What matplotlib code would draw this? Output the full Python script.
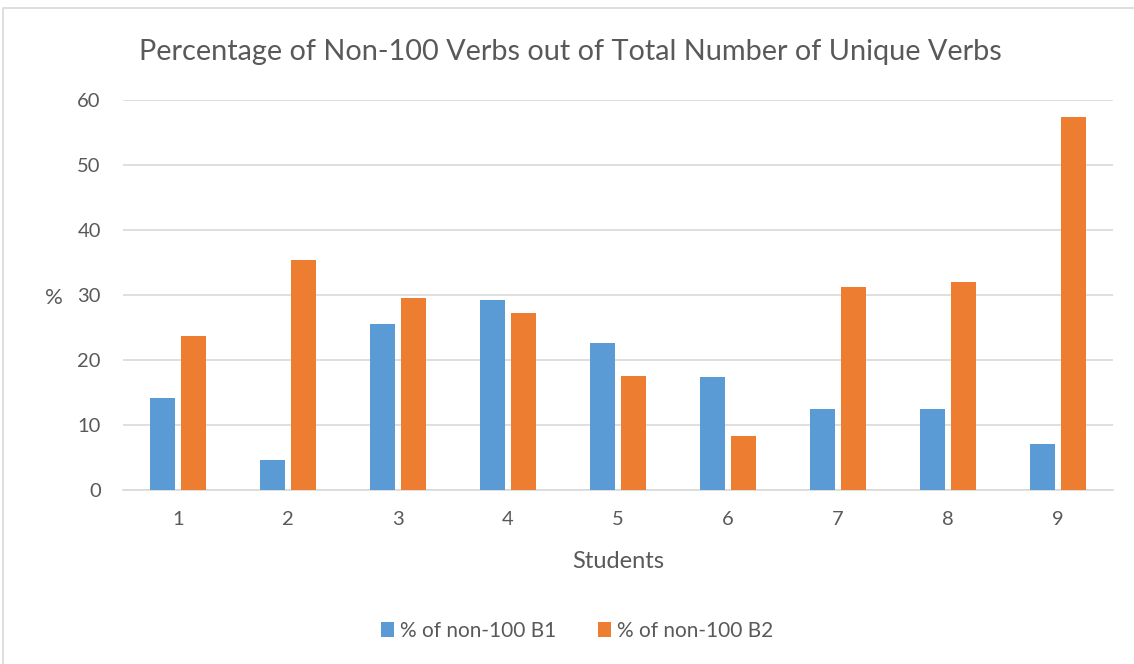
import matplotlib
matplotlib.use("Agg")
import matplotlib.pyplot as plt
import numpy as np
from matplotlib.patches import Rectangle

students = ["1", "2", "3", "4", "5", "6", "7", "8", "9"]
b1 = [14.2, 4.6, 25.6, 29.3, 22.7, 17.4, 12.5, 12.5, 7.1]
b2 = [23.7, 35.4, 29.5, 27.2, 17.6, 8.3, 31.2, 32.1, 57.5]

text_color = "#595959"
plt.rcParams["font.family"] = ["Lato", "DejaVu Sans"]

fig = plt.figure(figsize=(11.34, 6.64), dpi=100)
ax = fig.add_axes([0.1085, 0.262, 0.873, 0.587])

x = np.arange(len(students))
w = 0.227
ax.bar(x - 0.142, b1, width=w, color="#5B9BD5", label="% of non-100 B1", zorder=3)
ax.bar(x + 0.142, b2, width=w, color="#ED7D31", label="% of non-100 B2", zorder=3)

ax.set_xlim(-0.5, len(students) - 0.5)
ax.set_ylim(0, 60)
ax.set_yticks(range(0, 61, 10))
ax.set_xticks(x)
ax.set_xticklabels(students)
ax.yaxis.grid(True, color="#D9D9D9", linewidth=1.2, zorder=0)
for s in ["top", "right", "left"]:
    ax.spines[s].set_visible(False)
ax.spines["bottom"].set_color("#D9D9D9")
ax.spines["bottom"].set_linewidth(1.2)
ax.tick_params(axis="both", length=0, labelsize=14.5, colors=text_color)
ax.tick_params(axis="y", pad=16)
ax.tick_params(axis="x", pad=15)

ax.set_xlabel("Students", fontsize=17, color=text_color, labelpad=17)
ax.set_ylabel("%", fontsize=16, color=text_color, rotation=0, va="center", ha="center")
ax.yaxis.set_label_coords(-0.07, 0.493)

fig.text(0.503, 0.922, "Percentage of Non-100 Verbs out of Total Number of Unique Verbs",
         ha="center", va="center", fontsize=20.8, color=text_color)

fig.legend(loc="center", bbox_to_anchor=(0.509, 0.05), ncol=2, frameon=False,
           fontsize=15, labelcolor=text_color, handlelength=0.6, handleheight=0.7,
           handletextpad=0.3, columnspacing=2.0)

fig.patches.append(Rectangle((0.003, -0.01), 1.0, 0.998, transform=fig.transFigure,
                             fill=False, edgecolor="#D9D9D9", linewidth=1.2))

fig.savefig("out.png", dpi=100)
